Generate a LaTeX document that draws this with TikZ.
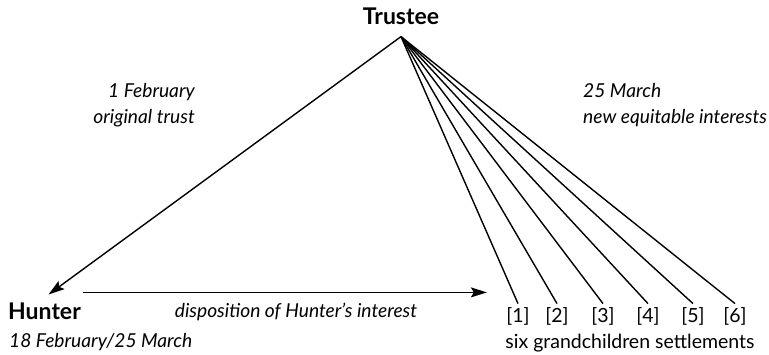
\documentclass[tikz,border=0pt]{standalone}
\usepackage{fontspec}
\setmainfont{Lato}
\usetikzlibrary{positioning,arrows.meta}

\begin{document}
\begin{tikzpicture}[x=1pt,y=-1pt,font=\fontsize{19.5}{22}\selectfont,
    party/.style={font=\fontsize{23}{26}\selectfont\bfseries,inner sep=2pt},
    note/.style={font=\fontsize{19.2}{26}\selectfont\itshape,inner sep=1pt},
    link/.style={line width=1.4pt},
    arr/.style={link,-{Stealth[length=16pt,width=10pt,inset=3pt]}}]
    \useasboundingbox (0,0) rectangle (769,354);
    % parties
    \node[party] (trustee) at (401,16) {Trustee};
    \node[party,anchor=west] (hunter) at (6,311) {Hunter};
    \node[note,anchor=west] (hunterdate) at (8,342) {18 February/25 March};
    % dates on the two sides
    \node[note,anchor=east,align=right] (feb) at (196,105)
        {1 February\\original trust};
    \node[note,anchor=west,align=left] (march) at (582,105)
        {25 March\\new equitable interests};
    % settlements
    \foreach \n/\x in {1/518,2/557,3/603,4/648,5/693,6/735}{
        \node (s\n) at (\x,316) {[\n]};
    }
    \node (six) at (630,343) {six grandchildren settlements};
    \node[note] (disp) at (296,312) {disposition of Hunter’s interest};
    % connectors
    \coordinate (apex) at ([yshift=-10pt]trustee.south);
    \draw[arr,shorten >=10pt] (apex) -- ([xshift=-4pt]hunter.north);
    \foreach \n in {1,...,6}{
        \draw[link] (apex) -- (s\n.north);
    }
    \draw[arr,shorten >=16pt] ([yshift=8pt]hunter.north east)
        -- ([yshift=8pt]hunter.north east -| s1.west);
\end{tikzpicture}
\end{document}
